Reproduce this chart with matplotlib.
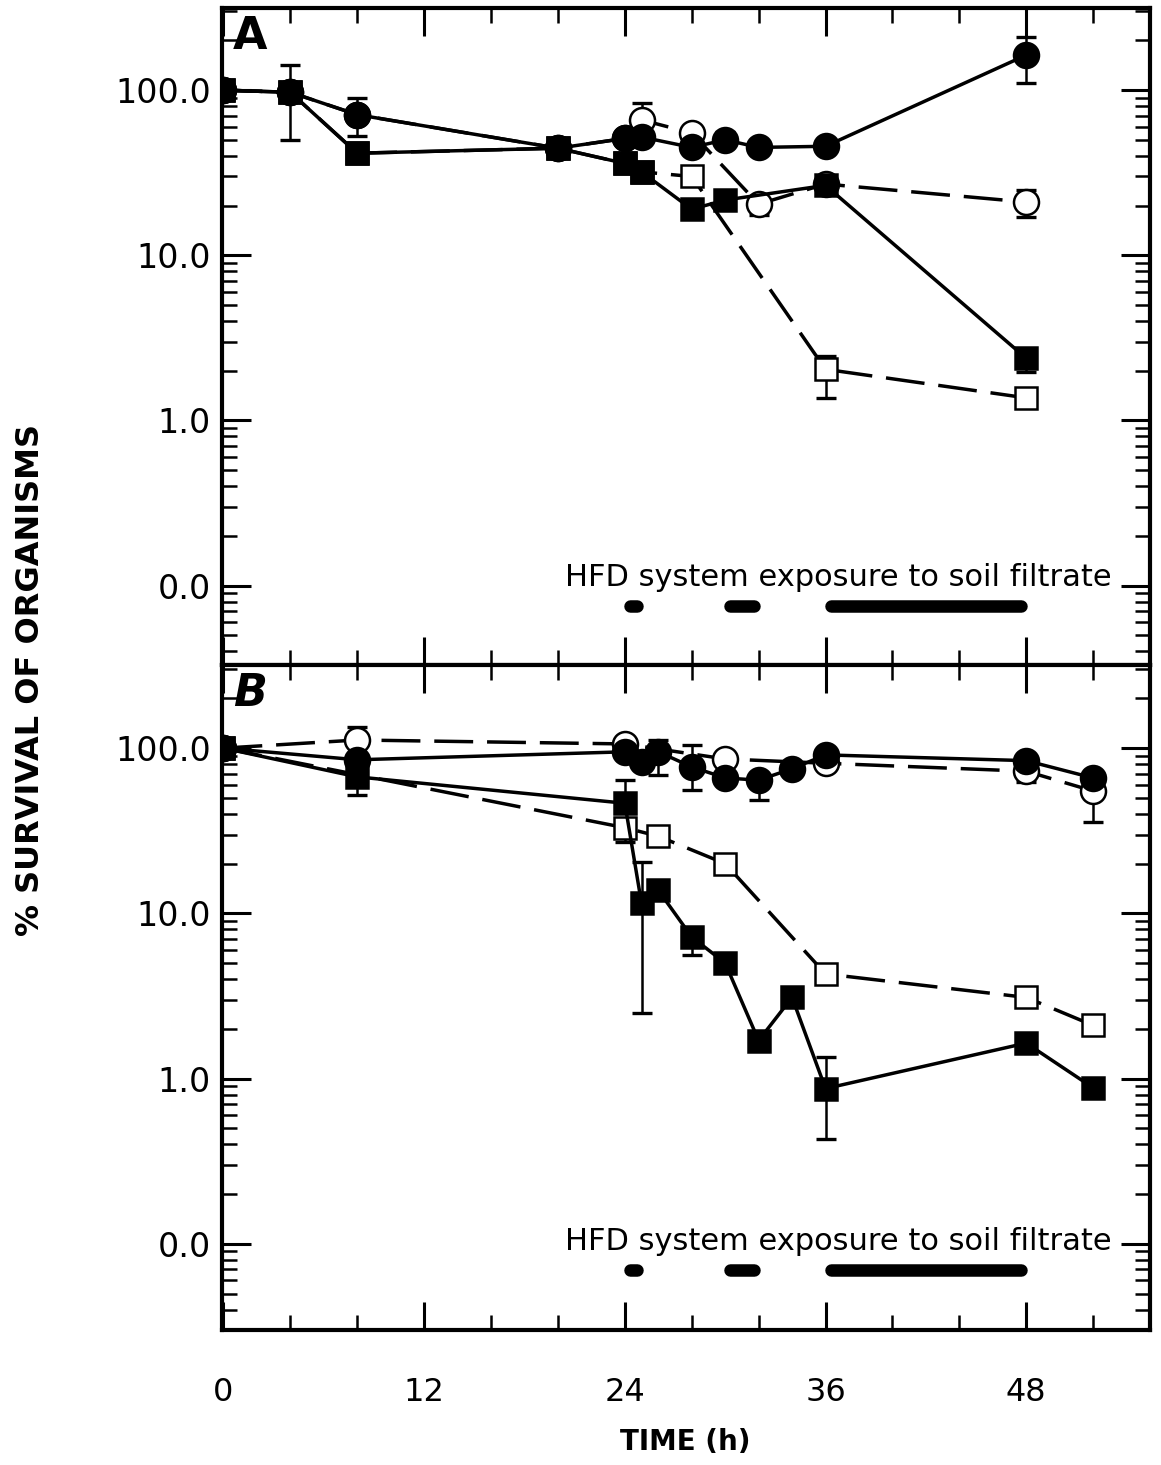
import matplotlib
matplotlib.use('Agg')
import matplotlib.pyplot as plt
import matplotlib.transforms as mtransforms
from matplotlib.ticker import LogLocator, FixedLocator, NullFormatter, MultipleLocator
import numpy as np

plt.rcParams['font.family'] = ['DejaVu Sans']
plt.rcParams['lines.scale_dashes'] = False

# ---------------- Panel A data ----------------
a_fc_t = [0, 4, 8, 20, 24, 25, 28, 30, 32, 36, 48]
a_fc_v = [100, 97, 71, 44.5, 51, 52, 45, 50, 45, 45.7, 163]
a_oc_t = [0, 4, 8, 20, 24, 25, 28, 32, 36, 48]
a_oc_v = [100, 97, 71, 44.5, 51, 66, 55, 20.4, 27, 21]
a_fs_t = [0, 4, 8, 20, 24, 25, 28, 30, 36, 48]
a_fs_v = [100, 97, 41.5, 44.5, 36, 32, 19, 21.6, 26.5, 2.38]
a_os_t = [0, 4, 8, 20, 24, 25, 28, 36, 48]
a_os_v = [100, 97, 41.5, 44.5, 36, 32, 30, 2.04, 1.37]

# error bars (time, value, low, high)
a_fc_err_t = [4, 8, 30, 48]
a_fc_err_v = [97, 71, 50, 163]
a_fc_err_lo = [50, 53, 45, 110]
a_fc_err_hi = [142, 89, 56, 210]
a_oc_err_t = [25, 32, 48]
a_oc_err_v = [66, 20.4, 21]
a_oc_err_lo = [66, 17.5, 17]
a_oc_err_hi = [84, 20.4, 24.8]
a_fs_err_t = [48]
a_fs_err_v = [2.38]
a_fs_err_lo = [1.96]
a_fs_err_hi = [2.38]
a_os_err_t = [36]
a_os_err_v = [2.04]
a_os_err_lo = [1.37]
a_os_err_hi = [2.47]

# ---------------- Panel B data ----------------
b_fc_t = [0, 8, 24, 25, 26, 28, 30, 32, 34, 36, 48, 52]
b_fc_v = [100, 85, 95, 82, 95, 77, 66, 64, 75, 91, 84, 66]
b_oc_t = [0, 8, 24, 30, 36, 48, 52]
b_oc_v = [100, 112, 106, 86, 81, 72.5, 55]
b_fs_t = [0, 8, 24, 25, 26, 28, 30, 32, 34, 36, 48, 52]
b_fs_v = [100, 67, 46.4, 11.5, 13.8, 7.2, 5.0, 1.7, 3.1, 0.87, 1.64, 0.88]
b_os_t = [0, 24, 26, 30, 36, 48, 52]
b_os_v = [100, 33, 29.3, 20, 4.3, 3.1, 2.1]

b_fc_err_t = [26, 28, 32]
b_fc_err_v = [95, 77, 64]
b_fc_err_lo = [69, 55.6, 48.4]
b_fc_err_hi = [112, 104, 64]
b_oc_err_t = [8, 48, 52]
b_oc_err_v = [112, 72.5, 55]
b_oc_err_lo = [112, 62, 35.6]
b_oc_err_hi = [134, 72.5, 55]
b_fs_err_t = [8, 24, 25, 28, 30, 36]
b_fs_err_v = [67, 46.4, 11.5, 7.2, 5.0, 0.87]
b_fs_err_lo = [52, 46.4, 2.5, 5.6, 5.0, 0.43]
b_fs_err_hi = [67, 64, 20.4, 8.1, 5.7, 1.35]
b_os_err_t = [24]
b_os_err_v = [33]
b_os_err_lo = [27]
b_os_err_hi = [33]

# exposure periods (h)
exposure_start = [24, 30, 36]
exposure_end = [25, 32, 48]
exposure_text = "HFD system exposure to soil filtrate"

ytick_vals = [0.1, 1, 10, 100]
ytick_labels = ["0.0", "1.0", "10.0", "100.0"]
xtick_vals = [0, 12, 24, 36, 48]
xtick_labels = ["0", "12", "24", "36", "48"]

fig = plt.figure(figsize=(11.61, 14.65), dpi=100)
axA = fig.add_axes([0.191, 0.546, 0.7995, 0.4485])
axB = fig.add_axes([0.191, 0.092, 0.7995, 0.454])

LW = 2.5
MEW = 1.8
MS_C = 18
MS_S = 16.5
DASH = (28, 10)


def series(ax, t, v, marker, filled, dashed, ms):
    kw = dict(color='black', lw=LW, marker=marker, ms=ms, mew=MEW,
              mec='black', mfc='black' if filled else 'white',
              solid_joinstyle='round', dash_capstyle='butt', zorder=4 if filled else 3)
    if dashed:
        kw['dashes'] = DASH
    ax.plot(t, v, **kw)


def errs(ax, t, v, lo, hi):
    v = np.array(v, float)
    lo = np.array(lo, float)
    hi = np.array(hi, float)
    ax.errorbar(t, v, yerr=[v - lo, hi - v], fmt='none', ecolor='black',
                elinewidth=1.8, capsize=7, capthick=2.4, zorder=2)


def style(ax, ylim, label, italic):
    ax.set_yscale('log')
    ax.set_xlim(-0.1, 55.4)
    ax.set_ylim(*ylim)
    for s in ax.spines.values():
        s.set_linewidth(3)
    ax.yaxis.set_major_locator(FixedLocator(ytick_vals))
    ax.set_yticklabels(ytick_labels)
    ax.yaxis.set_minor_locator(LogLocator(base=10, subs=np.arange(2, 10)))
    ax.yaxis.set_minor_formatter(NullFormatter())
    ax.xaxis.set_major_locator(FixedLocator(xtick_vals))
    ax.xaxis.set_minor_locator(MultipleLocator(4))
    ax.tick_params(axis='y', which='major', direction='in', length=21, width=2.2,
                   left=True, right=True, labelsize=24, pad=8)
    ax.tick_params(axis='y', which='minor', direction='in', length=11, width=1.8,
                   left=True, right=True)
    ax.tick_params(axis='x', which='major', direction='in', length=20, width=2.2,
                   top=True, bottom=True, labelsize=23, pad=34)
    ax.tick_params(axis='x', which='minor', direction='in', length=11, width=1.8,
                   top=True, bottom=True)
    ax.text(0.012, 0.99, label, transform=ax.transAxes, ha='left', va='top',
            fontsize=32, fontweight='bold', style='italic' if italic else 'normal')
    trans = mtransforms.blended_transform_factory(ax.transData, ax.transAxes)
    for s0, s1 in zip(exposure_start, exposure_end):
        ax.plot([s0 + 0.3, s1 - 0.3], [0.09, 0.09], transform=trans, color='black',
                lw=9, solid_capstyle='round', zorder=5)
    ax.text(53.1, 0.133, exposure_text, transform=trans, ha='right', va='center',
            fontsize=22)


# Panel A
series(axA, a_os_t, a_os_v, 's', False, True, MS_S)
series(axA, a_oc_t, a_oc_v, 'o', False, True, MS_C)
series(axA, a_fs_t, a_fs_v, 's', True, False, MS_S)
series(axA, a_fc_t, a_fc_v, 'o', True, False, MS_C)
errs(axA, a_fc_err_t, a_fc_err_v, a_fc_err_lo, a_fc_err_hi)
errs(axA, a_oc_err_t, a_oc_err_v, a_oc_err_lo, a_oc_err_hi)
errs(axA, a_fs_err_t, a_fs_err_v, a_fs_err_lo, a_fs_err_hi)
errs(axA, a_os_err_t, a_os_err_v, a_os_err_lo, a_os_err_hi)
style(axA, (0.033, 314), 'A', False)
axA.tick_params(axis='x', labelbottom=False)

# Panel B
series(axB, b_os_t, b_os_v, 's', False, True, MS_S)
series(axB, b_oc_t, b_oc_v, 'o', False, True, MS_C)
series(axB, b_fs_t, b_fs_v, 's', True, False, MS_S)
series(axB, b_fc_t, b_fc_v, 'o', True, False, MS_C)
errs(axB, b_fc_err_t, b_fc_err_v, b_fc_err_lo, b_fc_err_hi)
errs(axB, b_oc_err_t, b_oc_err_v, b_oc_err_lo, b_oc_err_hi)
errs(axB, b_fs_err_t, b_fs_err_v, b_fs_err_lo, b_fs_err_hi)
errs(axB, b_os_err_t, b_os_err_v, b_os_err_lo, b_os_err_hi)
style(axB, (0.030, 318), 'B', True)
axB.set_xticklabels(xtick_labels)

fig.text(0.026, 0.536, "% SURVIVAL OF ORGANISMS", rotation=90, ha='center', va='center',
         fontsize=23, fontweight='bold')
fig.text(0.59, 0.016, "TIME (h)", ha='center', va='center', fontsize=20, fontweight='bold')

fig.savefig('out.png', dpi=100, facecolor='white')
